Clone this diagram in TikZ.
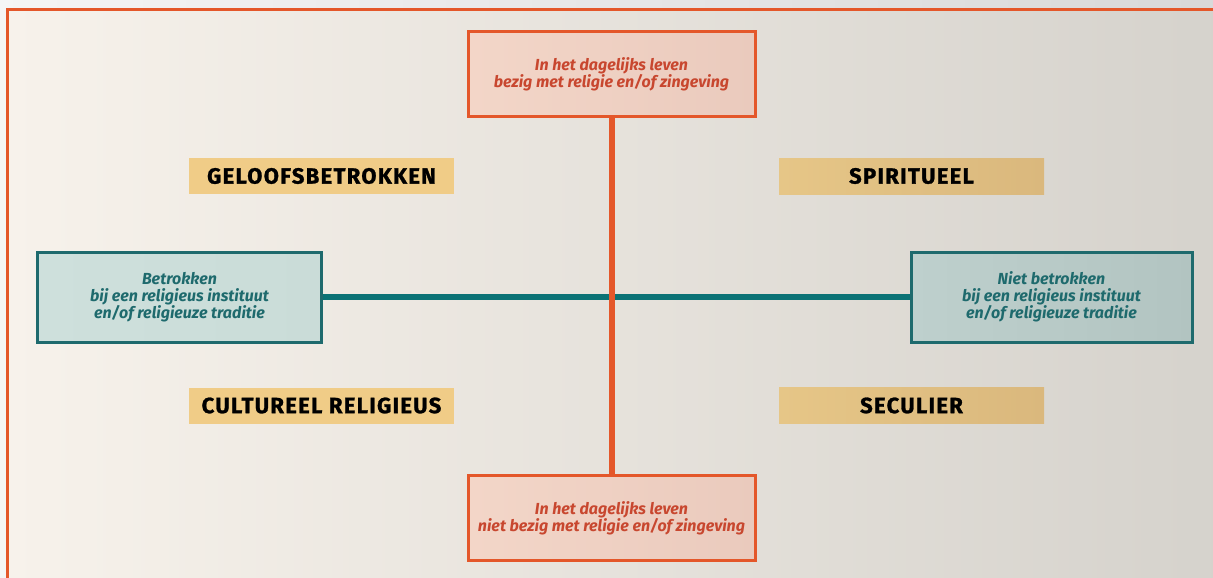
\documentclass[tikz,border=0pt]{standalone}
\usepackage{fontspec}
\setmainfont{Fira Sans}
\newfontfamily\labelfont{Fira Sans}[LetterSpace=6,FakeBold=1.2]
\definecolor{frameor}{HTML}{E4572A}
\definecolor{ortext}{HTML}{C8472F}
\definecolor{teal}{HTML}{1E6A6D}
\definecolor{tealln}{HTML}{0B7275}
\definecolor{labelfill}{HTML}{F0CC87}
\definecolor{orleft}{HTML}{F3D6C8}
\definecolor{orright}{HTML}{EACABD}
\tikzset{
  orbox/.style={draw=frameor, line width=3pt, left color=orleft, right color=orright, minimum width=287pt, minimum height=85pt, align=center, text=ortext, font=\fontsize{16}{17}\selectfont\bfseries\itshape, inner sep=0pt},
  tealbox/.style={draw=teal, line width=3pt, minimum width=284pt, minimum height=90pt, align=center, text=teal, font=\fontsize{16}{17}\selectfont\bfseries\itshape, inner sep=0pt},
  labelbox/.style={minimum width=265pt, minimum height=36pt, inner sep=0pt, font=\fontsize{22}{24}\labelfont\bfseries, text=black},
  orline/.style={draw=frameor, line width=6pt},
  tealline/.style={draw=tealln, line width=6pt}
}
\begin{document}
\begin{tikzpicture}[x=1pt,y=-1pt]
\useasboundingbox (0,0) rectangle (1213,578);
% outer background
\shade[left color=white!96!black, right color=black!15] (0,0) rectangle (1213,578);
% framed area
\shade[left color={rgb,255:red,247;green,242;blue,235}, right color={rgb,255:red,213;green,210;blue,204}] (7,10) rectangle (1230,600);
\draw[frameor, line width=3pt] (1230,10) -- (7,10) -- (7,600);
% boxes
\node[orbox] (top) at (611.5,74) {In het dagelijks leven\\bezig met religie en/of zingeving};
\node[orbox] (bot) at (611.5,518) {In het dagelijks leven\\niet bezig met religie en/of zingeving};
\node[tealbox, left color={rgb,255:red,206;green,224;blue,220}, right color={rgb,255:red,202;green,220;blue,216}] (left) at (179.5,297) {Betrokken\\bij een religieus instituut\\en/of religieuze traditie};
\node[tealbox, minimum width=281pt, left color={rgb,255:red,190;green,208;blue,205}, right color={rgb,255:red,178;green,196;blue,193}] (right) at (1051.5,297) {Niet betrokken\\bij een religieus instituut\\en/of religieuze traditie};
% connectors
\draw[tealline] (left.east) -- (right.west);
\draw[orline] (top.south) -- (bot.north);
% labels
\node[labelbox, fill=labelfill] (geloof) at (321.5,176) {GELOOFSBETROKKEN};
\node[labelbox, left color={rgb,255:red,230;green,198;blue,135}, right color={rgb,255:red,218;green,184;blue,125}] (spirit) at (911.5,176) {SPIRITUEEL};
\node[labelbox, fill=labelfill] (cult) at (321.5,405.5) {CULTUREEL RELIGIEUS};
\node[labelbox, left color={rgb,255:red,230;green,198;blue,135}, right color={rgb,255:red,218;green,184;blue,125}] (secul) at (911.5,405.5) {SECULIER};
\end{tikzpicture}
\end{document}
